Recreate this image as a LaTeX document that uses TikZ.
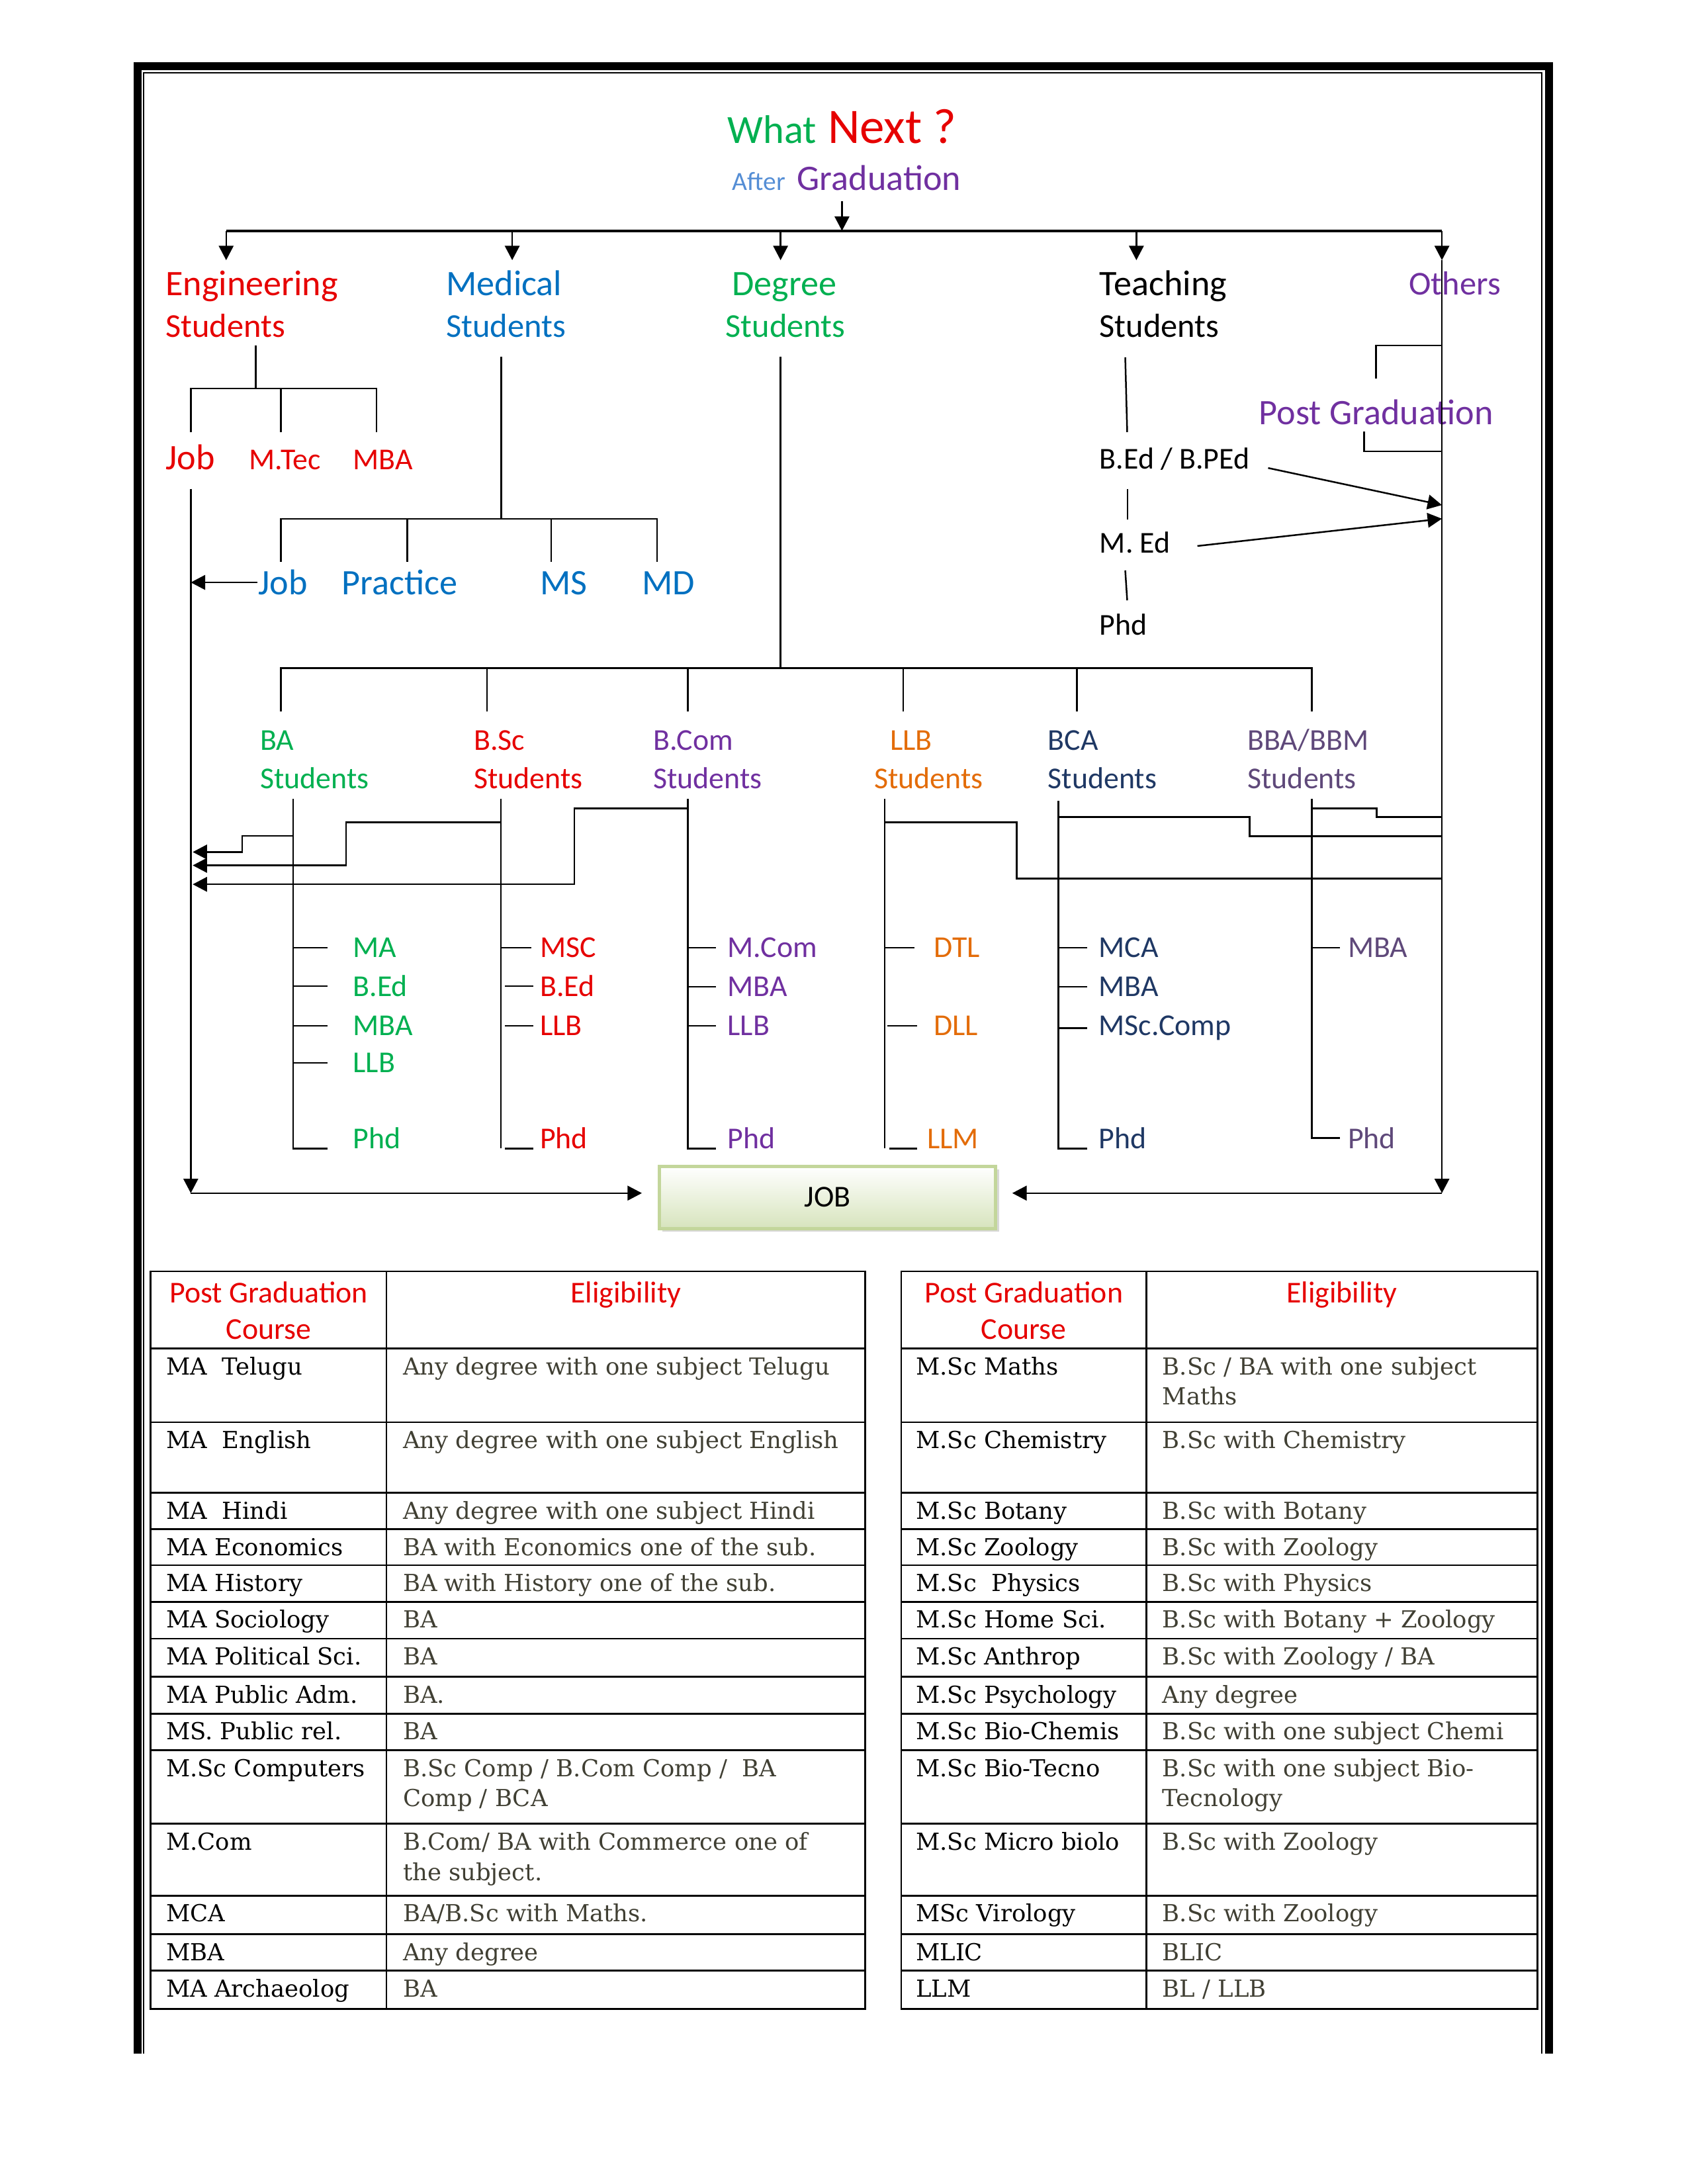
\documentclass[tikz,border=0pt]{standalone}
\usepackage{fontspec}
\setmainfont{Carlito}
\newfontfamily\tabfont{DejaVu Serif}
\usetikzlibrary{arrows.meta,shadows}
\definecolor{grn}{HTML}{00B050}
\definecolor{rd}{HTML}{E60000}
\definecolor{blu}{HTML}{0070C0}
\definecolor{prp}{HTML}{7030A0}
\definecolor{org}{HTML}{E36C09}
\definecolor{nvy}{HTML}{1F3864}
\definecolor{bbm}{HTML}{5F497A}
\definecolor{aft}{HTML}{558ED5}
\definecolor{eli}{HTML}{403F33}
\definecolor{jobrim}{HTML}{C3D69B}
\definecolor{jobg}{HTML}{D7E4BD}
\tikzset{
  lbl/.style={inner sep=0pt, anchor=base west},
  bigtxt/.style={lbl, font=\fontsize{13}{15}\selectfont},
  midtxt/.style={lbl, font=\fontsize{12.1}{14}\selectfont},
  smltxt/.style={lbl, font=\fontsize{11}{13}\selectfont},
  cell/.style={lbl, font=\tabfont\fontsize{8.5}{11}\selectfont},
  elig/.style={cell, text=eli},
  thead/.style={inner sep=0pt, anchor=base, text=rd, font=\fontsize{11}{13}\selectfont},
  jobbox/.style={draw=jobrim, line width=1.2pt, top color=white, bottom color=jobg,
    drop shadow={shadow xshift=1.2pt, shadow yshift=-1.2pt, fill=black!30},
    minimum width=122pt, minimum height=22.6pt, inner sep=0pt, font=\fontsize{11}{13}\selectfont}
}
\begin{document}
\begin{tikzpicture}[x=0.50495pt, y=-0.50495pt, line width=0.6pt, >={Triangle[width=5.3pt,length=5.2pt]}]
    \useasboundingbox (0,0) rectangle (1212,1568);
    \draw[line width=2.9pt] (99,1474.2) -- (99,47.6) -- (1112.1,47.6) -- (1112.1,1474.2);
    \draw[line width=0.35pt] (103,1474.2) -- (103,52.3) -- (1107,52.3) -- (1107,1474.2);

    \node[lbl, text=grn, font=\fontsize{14.5}{17}\selectfont] (what) at (521.9,102.7) {What};
    \node[lbl, text=rd, font=\fontsize{18}{21}\selectfont] (next) at (593.9,102.7) {Next ?};
    \node[lbl, text=aft, font=\fontsize{9.5}{11}\selectfont] (after) at (525.2,136.8) {After};
    \node[bigtxt, text=prp] (grad) at (571.8,136.8) {Graduation};

    \coordinate (t0) at (604.6,144.5);
    \coordinate (t1) at (604.6,165.7);
    \coordinate (b1) at (162.4,165.7);
    \coordinate (b2) at (367.8,165.7);
    \coordinate (b3) at (560.5,165.7);
    \coordinate (b4) at (816,165.7);
    \coordinate (b5) at (1035.4,165.7);
    \coordinate (a1) at (162.4,186.8);
    \coordinate (a2) at (367.8,186.8);
    \coordinate (a3) at (560.5,186.8);
    \coordinate (a4) at (816,186.8);
    \coordinate (a5) at (1035.4,186.8);
    \draw[->] (t0) -- (t1);
    \draw[line width=1pt] (b1) -- (b5);
    \draw[->] (b1) -- (a1);
    \draw[->] (b2) -- (a2);
    \draw[->] (b3) -- (a3);
    \draw[->] (b4) -- (a4);
    \draw[->] (b5) -- (a5);

    \node[bigtxt, text=rd] (eng) at (118.3,212) {Engineering};
    \node[midtxt, text=rd] (engs) at (118.3,242) {Students};
    \node[bigtxt, text=blu] (med) at (319.8,212) {Medical};
    \node[midtxt, text=blu] (meds) at (319.8,242) {Students};
    \node[bigtxt, text=grn] (deg) at (525.2,212) {Degree};
    \node[midtxt, text=grn] (degs) at (520.4,242) {Students};
    \node[bigtxt] (tea) at (789,212) {Teaching};
    \node[midtxt] (teas) at (789,242) {Students};
    \node[midtxt, text=prp] (oth) at (1011.2,211.5) {Others};
    \node[bigtxt, text=prp] (pg) at (903.5,305) {Post Graduation};

    \node[bigtxt, text=rd] (ejob) at (118.3,337) {Job};
    \node[smltxt, text=rd] (mtec) at (178.4,337) {M.Tec};
    \node[smltxt, text=rd] (emba) at (253,337) {MBA};
    \coordinate (e0) at (183.7,248);
    \coordinate (e1) at (183.7,279);
    \coordinate (ed1) at (137,310.5);
    \coordinate (ed2) at (201.8,310.5);
    \coordinate (ed3) at (270.4,310.5);
    \draw (e0) -- (e1);
    \draw (ed1) |- (e1) -| (ed3);
    \draw (ed2) -- (ed2 |- e1);

    \node[bigtxt, text=blu] (mjob) at (185,427) {Job};
    \node[bigtxt, text=blu] (prac) at (245,427) {Practice};
    \node[bigtxt, text=blu] (ms) at (387.2,427) {MS};
    \node[bigtxt, text=blu] (md) at (460.5,427) {MD};
    \coordinate (m0) at (360,256);
    \coordinate (m1) at (360,372.5);
    \coordinate (md1) at (201.8,403.5);
    \coordinate (md2) at (292.4,403.5);
    \coordinate (md3) at (395.8,403.5);
    \coordinate (md4) at (471.8,403.5);
    \draw (m0) -- (m1);
    \draw (md1) |- (m1) -| (md4);
    \draw (md2) -- (md2 |- m1);
    \draw (md3) -- (md3 |- m1);

    \coordinate (jt) at (137,351);
    \coordinate (jb) at (137,856.6);
    \draw[->] (mjob.west) -- (mjob.west -| jt);

    \node[smltxt] (bped) at (789,336.7) {B.Ed / B.PEd};
    \node[smltxt] (med2) at (789,397.2) {M. Ed};
    \node[smltxt] (tphd) at (789,456) {Phd};
    \coordinate (tc1) at (808,256.5);
    \coordinate (tc2) at (809.4,310.2);
    \coordinate (tc3) at (809.7,351);
    \coordinate (tc4) at (809.7,373);
    \coordinate (tc5) at (808,409.5);
    \coordinate (tc6) at (809.4,431);
    \draw (tc1) -- (tc2);
    \draw (tc3) -- (tc4);
    \draw (tc5) -- (tc6);
    \coordinate (ta1) at (910.6,336);
    \coordinate (oa1) at (1035.4,362.6);
    \coordinate (ta2) at (859.8,392);
    \coordinate (oa2) at (1035.4,372.4);
    \draw[->] (ta1) -- (oa1);
    \draw[->] (ta2) -- (oa2);

    \coordinate (p1) at (1035.4,248);
    \coordinate (p2) at (988,272);
    \coordinate (p3) at (979.4,309.8);
    \coordinate (p4) at (1035.4,324);
    \draw (p1) -| (p2);
    \draw (p3) |- (p4);

    \coordinate (d0) at (560.5,256);
    \coordinate (d1) at (560.5,479.7);
    \coordinate (dd1) at (201.8,510.8);
    \coordinate (dd2) at (349.8,510.8);
    \coordinate (dd3) at (493.8,510.8);
    \coordinate (dd4) at (648.6,510.8);
    \coordinate (dd5) at (773.3,510.8);
    \coordinate (dd6) at (942,510.8);
    \draw (d0) -- (d1);
    \draw (dd1) |- (d1) -| (dd6);
    \draw (dd2) -- (dd2 |- d1);
    \draw (dd3) -- (dd3 |- d1);
    \draw (dd4) -- (dd4 |- d1);
    \draw (dd5) -- (dd5 |- d1);

    \node[smltxt, text=grn] (ba) at (186.3,538.6) {BA};
    \node[smltxt, text=grn] (bas) at (186.3,566) {Students};
    \node[smltxt, text=rd] (bsc) at (339.8,538.6) {B.Sc};
    \node[smltxt, text=rd] (bscs) at (339.8,566) {Students};
    \node[smltxt, text=prp] (bcom) at (468.5,538.6) {B.Com};
    \node[smltxt, text=prp] (bcoms) at (468.5,566) {Students};
    \node[smltxt, text=org] (llb) at (638.5,538.6) {LLB};
    \node[smltxt, text=org] (llbs) at (627.2,566) {Students};
    \node[smltxt, text=nvy] (bca) at (752,538.6) {BCA};
    \node[smltxt, text=nvy] (bcas) at (752,566) {Students};
    \node[smltxt, text=bbm] (bba) at (895.3,538.6) {BBA/BBM};
    \node[smltxt, text=bbm] (bbas) at (895.3,566) {Students};

    \coordinate (bat) at (210.4,573.5);
    \node[smltxt, text=grn] (ba1) at (253,687.5) {MA};
    \node[smltxt, text=grn] (ba2) at (253,715.5) {B.Ed};
    \node[smltxt, text=grn] (ba3) at (253,743.5) {MBA};
    \node[smltxt, text=grn] (ba4) at (253,770) {LLB};
    \node[smltxt, text=grn] (ba5) at (253,824.5) {Phd};
    \draw[shorten >=9pt] (bat) -- (bat |- ba5.base) -- (ba5.base west);
    \foreach \n in {1,...,4} \draw[shorten >=9pt] (bat |- ba\n.west) -- (ba\n.west);

    \coordinate (bst) at (359.8,573.5);
    \node[smltxt, text=rd] (bs1) at (387.2,687.5) {MSC};
    \node[smltxt, text=rd] (bs2) at (387.2,715.5) {B.Ed};
    \node[smltxt, text=rd] (bs3) at (387.2,743.5) {LLB};
    \node[smltxt, text=rd] (bs4) at (387.2,824.5) {Phd};
    \draw (bst) -- (bst |- bs4.base);
    \draw[shorten >=2.8pt] (bst |- bs1.west) -- (bs1.west);
    \foreach \n in {2,3} \draw[shorten <=1.4pt, shorten >=2.1pt] (bst |- bs\n.west) -- (bs\n.west);
    \draw[shorten <=1.4pt, shorten >=2.1pt] (bst |- bs4.base) -- (bs4.base west);

    \coordinate (bct) at (493.8,573.5);
    \node[smltxt, text=prp] (bc1) at (521.9,687.5) {M.Com};
    \node[smltxt, text=prp] (bc2) at (521.9,715.5) {MBA};
    \node[smltxt, text=prp] (bc3) at (521.9,743.5) {LLB};
    \node[smltxt, text=prp] (bc4) at (521.9,824.5) {Phd};
    \draw[shorten >=4pt] (bct) -- (bct |- bc4.base) -- (bc4.base west);
    \foreach \n in {1,2,3} \draw[shorten >=4pt] (bct |- bc\n.west) -- (bc\n.west);

    \coordinate (llt) at (635.2,573.5);
    \node[smltxt, text=org] (ll1) at (670,687.5) {DTL};
    \node[smltxt, text=org] (ll2) at (670,743.5) {DLL};
    \node[smltxt, text=org] (ll3) at (665.3,824.5) {LLM};
    \draw (llt) -- (llt |- ll3.base);
    \draw[shorten >=6.7pt] (llt |- ll1.west) -- (ll1.west);
    \draw[shorten <=1pt, shorten >=5.8pt] (llt |- ll2.west) -- (ll2.west);
    \draw[shorten <=1.7pt, shorten >=3.4pt] (llt |- ll3.base) -- (ll3.base west);

    \coordinate (cat) at (760,574.9);
    \node[smltxt, text=nvy] (ca1) at (788.5,687.5) {MCA};
    \node[smltxt, text=nvy] (ca2) at (788.5,715.5) {MBA};
    \node[smltxt, text=nvy] (ca3) at (788.5,743.5) {MSc.Comp};
    \node[smltxt, text=nvy] (ca4) at (788.5,824.5) {Phd};
    \draw[shorten >=3.9pt] (cat) -- (cat |- ca4.base) -- (ca4.base west);
    \foreach \n in {1,2,3} \draw[shorten >=3.9pt] (cat |- ca\n.west) -- (ca\n.west);

    \coordinate (bbt) at (942,573.5);
    \node[smltxt, text=bbm] (bb1) at (967.3,687.5) {MBA};
    \node[smltxt, text=bbm] (bb2) at (967.3,824.5) {Phd};
    \draw[shorten >=2.7pt] (bbt) -- (bbt |- bb2.west) -- (bb2.west);
    \draw[shorten >=2.7pt] (bbt |- bb1.west) -- (bb1.west);

    \coordinate (s1a) at (173.8,600);
    \coordinate (s1b) at (138.4,611.7);
    \coordinate (s2a) at (248.4,590.4);
    \coordinate (s2b) at (138.4,621.3);
    \coordinate (s3a) at (412.5,580.4);
    \coordinate (s3b) at (138.4,634.9);
    \draw[->] (bat |- s1a) -- (s1a) |- (s1b);
    \draw[->] (bst |- s2a) -- (s2a) |- (s2b);
    \draw[->] (bct |- s3a) -- (s3a) |- (s3b);
    \coordinate (s4a) at (730,590.4);
    \coordinate (s4b) at (1035.4,630.8);
    \coordinate (s5a) at (897.3,586.6);
    \coordinate (s5b) at (1035.4,600.3);
    \coordinate (s6a) at (988.6,580.4);
    \coordinate (s6b) at (1035.4,586.6);
    \draw (llt |- s4a) -- (s4a) |- (s4b);
    \draw (cat |- s5a) -- (s5a) |- (s5b);
    \draw (bbt |- s6a) -- (s6a) |- (s6b);

    \node[jobbox] (job) at (594.2,859.6) {JOB};
    \coordinate (ob) at (1035.4,856.6);
    \draw[->] (jt) -- (jb);
    \draw[->] (a5) -- (ob);
    \draw[->, shorten >=5.7pt] (jb) -- (jb -| job.west);
    \draw[->, shorten >=5.4pt] (ob) -- (ob -| job.east);

    \draw (108.2,912.8) rectangle (621.3,1442.4);
    \draw (277.6,912.8) -- (277.6,1442.4);
    \draw (647.1,912.8) rectangle (1103.9,1442.4);
    \draw (823.2,912.8) -- (823.2,1442.4);
    \foreach \y in {968.1,1021.2,1071.8,1097.9,1123.7,1150,1176.5,1203.8,1230.3,1256.5,1309.3,1361,1388.6,1414.8}
        {\draw (108.2,\y) -- (621.3,\y); \draw (647.1,\y) -- (1103.9,\y);}

    \node[thead] (lh1) at (193,935.4) {Post Graduation};
    \node[thead] (lh2) at (193,961.5) {Course};
    \node[thead] (lh3) at (449.5,935.4) {Eligibility};
    \node[thead] (rh1) at (735.2,935.4) {Post Graduation};
    \node[thead] (rh2) at (735.2,961.5) {Course};
    \node[thead] (rh3) at (963.6,935.4) {Eligibility};

    \node[cell] (lc1) at (118.7,986.9) {MA~~Telugu};
    \node[cell] (lc2) at (118.7,1040) {MA~~English};
    \node[cell] (lc3) at (118.7,1090.6) {MA~~Hindi};
    \node[cell] (lc4) at (118.7,1116.7) {MA Economics};
    \node[cell] (lc5) at (118.7,1142.5) {MA History};
    \node[cell] (lc6) at (118.7,1168.8) {MA Sociology};
    \node[cell] (lc7) at (118.7,1195.3) {MA Political Sci.};
    \node[cell] (lc8) at (118.7,1222.6) {MA Public Adm.};
    \node[cell] (lc9) at (118.7,1249.1) {MS. Public rel.};
    \node[cell] (lc10) at (118.7,1275.3) {M.Sc Computers};
    \node[cell] (lc11) at (118.7,1328.1) {M.Com};
    \node[cell] (lc12) at (118.7,1379.8) {MCA};
    \node[cell] (lc13) at (118.7,1407.4) {MBA};
    \node[cell] (lc14) at (118.7,1433.6) {MA Archaeolog};

    \node[elig] (le1) at (288.8,986.9) {Any degree with one subject Telugu};
    \node[elig] (le2) at (288.8,1040) {Any degree with one subject English};
    \node[elig] (le3) at (288.8,1090.6) {Any degree with one subject Hindi};
    \node[elig] (le4) at (288.8,1116.7) {BA with Economics one of the sub.};
    \node[elig] (le5) at (288.8,1142.5) {BA with History one of the sub.};
    \node[elig] (le6) at (288.8,1168.8) {BA};
    \node[elig] (le7) at (288.8,1195.3) {BA};
    \node[elig] (le8) at (288.8,1222.6) {BA.};
    \node[elig] (le9) at (288.8,1249.1) {BA};
    \node[elig] (le10) at (288.8,1275.3) {B.Sc Comp / B.Com Comp /~~BA};
    \node[elig] (le10b) at (288.8,1297.1) {Comp / BCA};
    \node[elig] (le11) at (288.8,1328.1) {B.Com/ BA with Commerce one of};
    \node[elig] (le11b) at (288.8,1349.9) {the subject.};
    \node[elig] (le12) at (288.8,1379.8) {BA/B.Sc with Maths.};
    \node[elig] (le13) at (288.8,1407.4) {Any degree};
    \node[elig] (le14) at (288.8,1433.6) {BA};

    \node[cell] (rc1) at (657.1,986.9) {M.Sc Maths};
    \node[cell] (rc2) at (657.1,1040) {M.Sc Chemistry};
    \node[cell] (rc3) at (657.1,1090.6) {M.Sc Botany};
    \node[cell] (rc4) at (657.1,1116.7) {M.Sc Zoology};
    \node[cell] (rc5) at (657.1,1142.5) {M.Sc~~Physics};
    \node[cell] (rc6) at (657.1,1168.8) {M.Sc Home Sci.};
    \node[cell] (rc7) at (657.1,1195.3) {M.Sc Anthrop};
    \node[cell] (rc8) at (657.1,1222.6) {M.Sc Psychology};
    \node[cell] (rc9) at (657.1,1249.1) {M.Sc Bio-Chemis};
    \node[cell] (rc10) at (657.1,1275.3) {M.Sc Bio-Tecno};
    \node[cell] (rc11) at (657.1,1328.1) {M.Sc Micro biolo};
    \node[cell] (rc12) at (657.1,1379.8) {MSc Virology};
    \node[cell] (rc13) at (657.1,1407.4) {MLIC};
    \node[cell] (rc14) at (657.1,1433.6) {LLM};

    \node[elig] (re1) at (834.2,986.9) {B.Sc / BA with one subject};
    \node[elig] (re1b) at (834.2,1008.7) {Maths};
    \node[elig] (re2) at (834.2,1040) {B.Sc with Chemistry};
    \node[elig] (re3) at (834.2,1090.6) {B.Sc with Botany};
    \node[elig] (re4) at (834.2,1116.7) {B.Sc with Zoology};
    \node[elig] (re5) at (834.2,1142.5) {B.Sc with Physics};
    \node[elig] (re6) at (834.2,1168.8) {B.Sc with Botany + Zoology};
    \node[elig] (re7) at (834.2,1195.3) {B.Sc with Zoology / BA};
    \node[elig] (re8) at (834.2,1222.6) {Any degree};
    \node[elig] (re9) at (834.2,1249.1) {B.Sc with one subject Chemi};
    \node[elig] (re10) at (834.2,1275.3) {B.Sc with one subject Bio-};
    \node[elig] (re10b) at (834.2,1297.1) {Tecnology};
    \node[elig] (re11) at (834.2,1328.1) {B.Sc with Zoology};
    \node[elig] (re12) at (834.2,1379.8) {B.Sc with Zoology};
    \node[elig] (re13) at (834.2,1407.4) {BLIC};
    \node[elig] (re14) at (834.2,1433.6) {BL / LLB};
\end{tikzpicture}
\end{document}
